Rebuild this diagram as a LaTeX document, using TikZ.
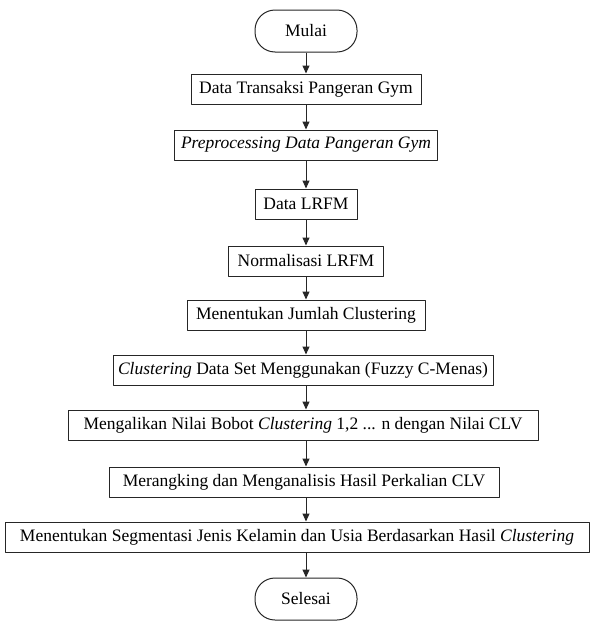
\documentclass[tikz,border=0pt]{standalone}
\usepackage{fontspec}
\setmainfont{Liberation Serif}
\usetikzlibrary{arrows.meta,positioning}
\definecolor{fcInk}{HTML}{262626}
\tikzset{
 flowchart/.style={font=\fontsize{17.5}{20}\selectfont,text=black,line join=round},
 proc/.style={rectangle,draw=fcInk,fill=white,line width=1pt,inner sep=0pt,minimum height=30pt},
 term/.style={proc,rounded corners=20pt,minimum height=42pt,minimum width=102pt},
 link/.style={draw=fcInk,line width=1pt,-{Triangle[length=8pt,width=7pt]}}
}

\begin{document}
\begin{tikzpicture}[flowchart,x=1pt,y=-1pt]
 \useasboundingbox (0,0) rectangle (594,627);
 % start and end
 \node[term] (mulai) at (306,31) {Mulai};
 \node[term] (selesai) at (306,599) {Selesai};
 % process steps
 \node[proc,minimum width=230pt] (transaksi) at (306,89) {Data Transaksi Pangeran Gym};
 \node[proc,minimum width=263pt] (prepro) at (306,145) {\itshape Preprocessing Data Pangeran Gym};
 \node[proc,minimum width=102pt] (lrfm) at (306,204) {Data LRFM};
 \node[proc,minimum width=155pt] (normal) at (306,261) {Normalisasi LRFM};
 \node[proc,minimum width=238pt] (jumlah) at (306,315) {Menentukan Jumlah Clustering};
 \node[proc,minimum width=380pt] (fcm) at (303,370) {\textit{Clustering} Data Set Menggunakan (Fuzzy C-Menas)};
 \node[proc,minimum width=470pt] (bobot) at (303,425) {Mengalikan Nilai Bobot \textit{Clustering} 1,2 ... n dengan Nilai CLV};
 \node[proc,minimum width=390pt] (rangking) at (304,482) {Merangking dan Menganalisis Hasil Perkalian CLV};
 \node[proc,minimum width=584pt] (segmen) at (297,537) {Menentukan Segmentasi Jenis Kelamin dan Usia Berdasarkan Hasil \textit{Clustering}};
 % connectors
 \foreach \a/\b in {mulai/transaksi,transaksi/prepro,prepro/lrfm,lrfm/normal,normal/jumlah,
   jumlah/fcm,fcm/bobot,bobot/rangking,rangking/segmen,segmen/selesai}
   \draw[link] (\a.south -| mulai) -- (\b.north -| mulai);
\end{tikzpicture}
\end{document}
